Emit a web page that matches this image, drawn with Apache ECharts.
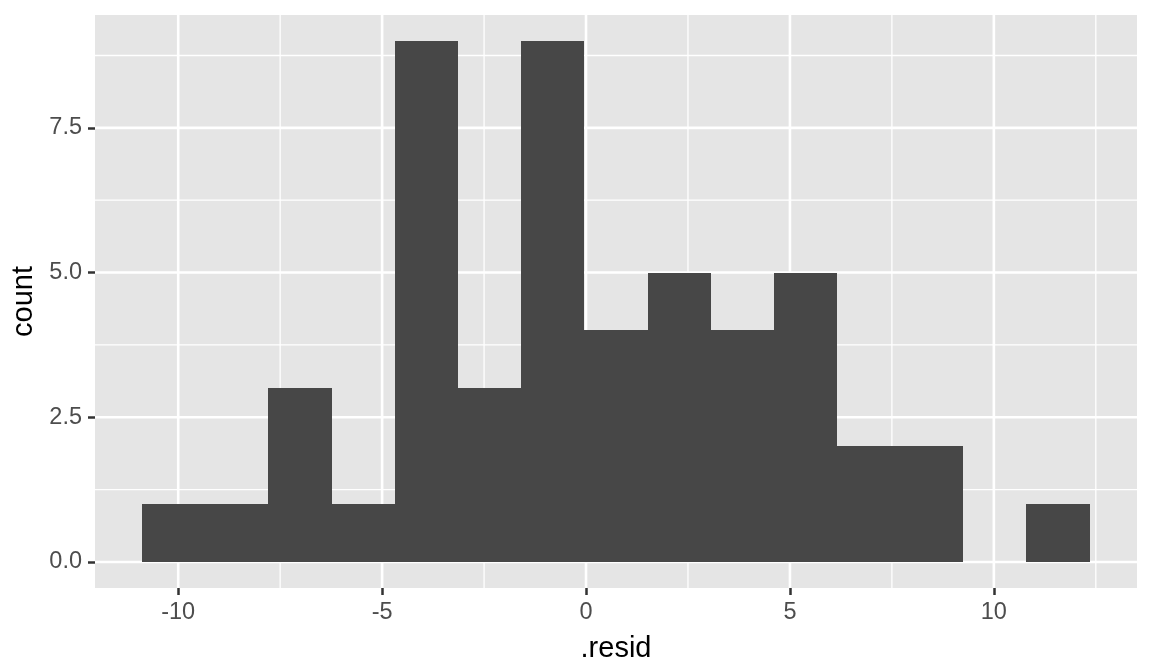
<!DOCTYPE html>
<html>
<head>
<meta charset="utf-8">
<script src="https://cdn.jsdelivr.net/npm/echarts@6/dist/echarts.min.js"></script>
<style>
html,body{margin:0;padding:0;background:#fff;}
#chart{width:1152px;height:672px;}
</style>
</head>
<body>
<div id="chart"></div>
<script>
// Histogram bins (lower/upper edges) and counts
const binEdges = [-10.88, -9.33, -7.79, -6.24, -4.69, -3.14, -1.59, -0.04, 1.51, 3.06, 4.61, 6.16, 7.70, 9.25, 10.80, 12.35];
const counts = [1, 1, 3, 1, 9, 3, 9, 4, 5, 4, 5, 2, 2, 0, 1];
const xMajor = [-10, -5, 0, 5, 10];
const xMinor = [-7.5, -2.5, 2.5, 7.5, 12.5];
const yMajor = [0, 2.5, 5, 7.5];
const yMinor = [1.25, 3.75, 6.25, 8.75];
const X_MIN = -12.04, X_MAX = 13.51, Y_MIN = -0.45, Y_MAX = 9.45;

const FONT = '"Liberation Sans", Arial, Helvetica, sans-serif';
const barData = counts.map((c, i) => [binEdges[i], binEdges[i + 1], c]);

function vLines(width) {
  return function (params, api) {
    const cs = params.coordSys;
    const px = api.coord([api.value(0), Y_MIN])[0];
    return { type: 'line', shape: { x1: px, y1: cs.y, x2: px, y2: cs.y + cs.height },
      style: { stroke: '#FFFFFF', lineWidth: width } };
  };
}
function hLines(width) {
  return function (params, api) {
    const cs = params.coordSys;
    const py = api.coord([X_MIN, api.value(0)])[1];
    return { type: 'line', shape: { x1: cs.x, y1: py, x2: cs.x + cs.width, y2: py },
      style: { stroke: '#FFFFFF', lineWidth: width } };
  };
}

const chart = echarts.init(document.getElementById('chart'), null, { renderer: 'canvas' });
chart.setOption({
  animation: false,
  backgroundColor: '#FFFFFF',
  grid: { left: 95, right: 15, top: 15, bottom: 84, show: true, backgroundColor: '#E5E5E5', borderWidth: 0, outerBoundsMode: 'none' },
  xAxis: {
    type: 'value', min: X_MIN, max: X_MAX,
    axisLine: { show: false, onZero: false },
    splitLine: { show: false },
    axisTick: { show: true, length: 7, customValues: xMajor, lineStyle: { color: '#333333', width: 2.5 } },
    axisLabel: { customValues: xMajor, margin: 13, fontSize: 23.5, color: '#4D4D4D', fontFamily: FONT, formatter: v => String(v) },
    name: '.resid', nameLocation: 'middle', nameGap: 46,
    nameTextStyle: { fontSize: 29, color: '#000000', fontFamily: FONT }
  },
  yAxis: {
    type: 'value', min: Y_MIN, max: Y_MAX,
    axisLine: { show: false, onZero: false },
    splitLine: { show: false },
    axisTick: { show: true, length: 7, customValues: yMajor, lineStyle: { color: '#333333', width: 2.5 } },
    axisLabel: { customValues: yMajor, margin: 13, fontSize: 23.5, color: '#4D4D4D', fontFamily: FONT, formatter: v => v.toFixed(1) },
    name: 'count', nameLocation: 'middle', nameGap: 57,
    nameTextStyle: { fontSize: 29, color: '#000000', fontFamily: FONT }
  },
  series: [
    { type: 'custom', silent: true, z: 1, data: xMinor, encode: { x: 0 }, renderItem: vLines(1.3) },
    { type: 'custom', silent: true, z: 1, data: yMinor, encode: { y: 0 }, renderItem: hLines(1.3) },
    { type: 'custom', silent: true, z: 1, data: xMajor, encode: { x: 0 }, renderItem: vLines(2.6) },
    { type: 'custom', silent: true, z: 1, data: yMajor, encode: { y: 0 }, renderItem: hLines(2.6) },
    {
      type: 'custom', z: 5, data: barData, encode: { x: [0, 1], y: 2 },
      renderItem: function (params, api) {
        if (!(api.value(2) > 0)) return null;
        const p0 = api.coord([api.value(0), api.value(2)]);
        const p1 = api.coord([api.value(1), 0]);
        const x0 = Math.round(p0[0]), x1 = Math.round(p1[0]);
        const y0 = Math.round(p0[1]), y1 = Math.round(p1[1]);
        return { type: 'rect', shape: { x: x0, y: y0, width: x1 - x0, height: y1 - y0 },
          style: { fill: '#474747' } };
      }
    }
  ]
});
</script>
</body>
</html>
